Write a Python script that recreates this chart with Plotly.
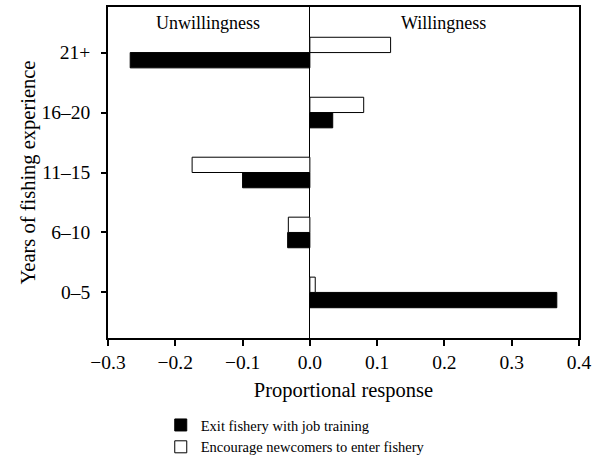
import plotly.graph_objects as go

categories = ["0\u20135", "6\u201310", "11\u201315", "16\u201320", "21+"]
exit_training = [0.367, -0.033, -0.100, 0.034, -0.267]
encourage_newcomers = [0.008, -0.032, -0.175, 0.080, 0.120]
x_ticks = [-0.3, -0.2, -0.1, 0.0, 0.1, 0.2, 0.3, 0.4]
x_tick_labels = ["\u22120.3", "\u22120.2", "\u22120.1", "0.0", "0.1", "0.2", "0.3", "0.4"]

font_family = "Liberation Serif"

fig = go.Figure()
fig.add_trace(go.Bar(
    y=categories, x=exit_training, orientation="h",
    name="Exit fishery with job training",
    marker=dict(color="black", line=dict(color="black", width=1)),
))
fig.add_trace(go.Bar(
    y=categories, x=encourage_newcomers, orientation="h",
    name="Encourage newcomers to enter fishery",
    marker=dict(color="white", line=dict(color="black", width=1)),
))

fig.update_layout(
    width=602, height=456,
    margin=dict(l=108, r=23, t=7, b=118),
    paper_bgcolor="white", plot_bgcolor="white",
    barmode="group", bargap=0.49, bargroupgap=0,
    font=dict(family=font_family, color="black", size=19),
    showlegend=True,
    legend=dict(
        x=0.112, xref="paper", y=0.103, yref="container",
        xanchor="left", yanchor="top",
        font=dict(size=14.5, family=font_family),
        bgcolor="rgba(0,0,0,0)", traceorder="normal",
        tracegroupgap=0, itemwidth=30,
    ),
    annotations=[
        dict(text="Unwillingness", x=-0.152, y=1.0, xref="x", yref="paper",
             yanchor="middle", yshift=-16, showarrow=False, font=dict(size=18, family=font_family)),
        dict(text="Willingness", x=0.198, y=1.0, xref="x", yref="paper",
             yanchor="middle", yshift=-16, showarrow=False, font=dict(size=18, family=font_family)),
    ],
)

fig.update_xaxes(
    range=[-0.3, 0.4], tickvals=x_ticks, ticktext=x_tick_labels,
    ticks="outside", ticklen=6, tickcolor="black", tickwidth=1.5,
    showline=True, linecolor="black", linewidth=1.5, mirror=True,
    showgrid=False, zeroline=True, zerolinecolor="black", zerolinewidth=1,
    title=dict(text="Proportional response", font=dict(size=20.5, family=font_family), standoff=10),
    tickfont=dict(size=19.5, family=font_family),
    automargin=False,
)
fig.update_yaxes(
    range=[-0.76, 4.76],
    ticks="outside", ticklen=5, tickcolor="black", tickwidth=1.5,
    showline=True, linecolor="black", linewidth=1.5, mirror=True,
    showgrid=False,
    ticklabelstandoff=7,
    title=dict(text="Years of fishing experience", font=dict(size=20.5, family=font_family), standoff=0),
    tickfont=dict(size=19.5, family=font_family),
    automargin=False,
)

fig.write_html("out.html", config={"displayModeBar": False},
               post_script="document.body.style.margin='0px';")
